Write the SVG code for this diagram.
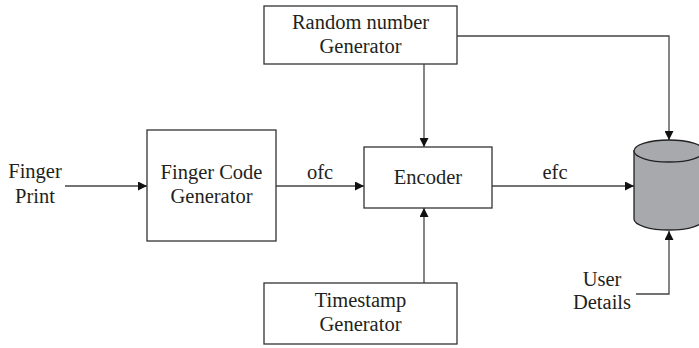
<svg xmlns="http://www.w3.org/2000/svg" width="699" height="348" viewBox="0 0 699 348">
<style>
.box{fill:#fff;stroke:#333;stroke-width:1.3}
.ln{fill:none;stroke:#444;stroke-width:1.3}
text{font-family:"Liberation Serif","Times New Roman",serif;font-size:20.5px;fill:#231f20;text-anchor:middle}
</style>
<defs>
<marker id="ah" viewBox="0 0 10 10" refX="10" refY="5" markerWidth="9" markerHeight="9" markerUnits="userSpaceOnUse" orient="auto">
<path d="M0,0 L10,5 L0,10 Z" fill="#111"/>
</marker>
</defs>
<rect width="699" height="348" fill="#fff"/>
<g id="connectors">
<line class="ln" x1="65" y1="186" x2="147" y2="186" marker-end="url(#ah)"/>
<line class="ln" x1="276" y1="186" x2="364" y2="186" marker-end="url(#ah)"/>
<line class="ln" x1="492" y1="186" x2="634" y2="186" marker-end="url(#ah)"/>
<line class="ln" x1="424" y1="64" x2="424" y2="147" marker-end="url(#ah)"/>
<line class="ln" x1="424" y1="283" x2="424" y2="208" marker-end="url(#ah)"/>
<polyline class="ln" points="457,36 669,36 669,140" marker-end="url(#ah)"/>
<polyline class="ln" points="636,294 669,294 669,231" marker-end="url(#ah)"/>
</g>
<g id="finger-print">
<text x="35" y="178">Finger</text>
<text x="35" y="203">Print</text>
</g>
<g id="finger-code-generator">
<rect class="box" x="147" y="130" width="129" height="111"/>
<text x="211.5" y="179">Finger Code</text>
<text x="211.5" y="203">Generator</text>
</g>
<g id="label-ofc"><text x="320" y="179">ofc</text></g>
<g id="random-number-generator">
<rect class="box" x="264" y="6" width="193" height="58"/>
<text x="360.5" y="29">Random number</text>
<text x="360.5" y="53">Generator</text>
</g>
<g id="encoder">
<rect class="box" x="364" y="147" width="128" height="61"/>
<text x="428" y="184">Encoder</text>
</g>
<g id="label-efc"><text x="555" y="179">efc</text></g>
<g id="timestamp-generator">
<rect class="box" x="264" y="283" width="193" height="61"/>
<text x="360.5" y="307">Timestamp</text>
<text x="360.5" y="331">Generator</text>
</g>
<g id="database">
<path d="M634,151 L634,219 A35,11 0 0 0 704,219 L704,151 Z" fill="#a7a9ac" stroke="#222" stroke-width="1.3"/>
<ellipse cx="669" cy="151" rx="35" ry="11" fill="#a7a9ac" stroke="#222" stroke-width="1.3"/>
</g>
<g id="user-details">
<text x="602" y="286">User</text>
<text x="602" y="309">Details</text>
</g>
</svg>
